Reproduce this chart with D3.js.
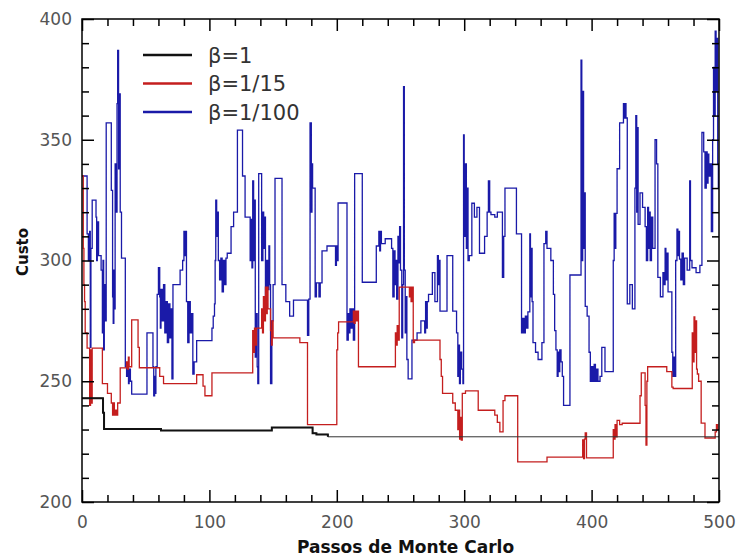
<!DOCTYPE html>
<html lang="pt">
<head>
<meta charset="UTF-8">
<title>Custo vs Passos de Monte Carlo</title>
<script src="https://d3js.org/d3.v7.min.js"></script>
<style>
    body { margin: 0; background: #fff; }
    .tick text { font-family: "DejaVu Sans", sans-serif; font-size: 17px; fill: #555; }
    .axis-title { font-family: "DejaVu Sans", sans-serif; font-weight: bold; font-size: 17px; fill: #111; }
    .legend-text { font-family: "DejaVu Sans", sans-serif; font-size: 21px; fill: #333; }
</style>
</head>
<body>
<svg width="736" height="559"></svg>
<script>
// tick labels
const xMajor = [0, 100, 200, 300, 400, 500];
const yMajor = [200, 250, 300, 350, 400];

// legend
const seriesNames = ["β=1", "β=1/15", "β=1/100"];
const seriesColors = ["#111111", "#c41e1e", "#1a1aa8"];

// [passo, custo] change points (step curve)
const beta1 = [[0,243],[16,243],[16.5,237],[17.3,230.2],[62,229.6],[149,230.8],[181,228.5],[184,228],[193,227],[500,227]];

const beta15 = [[0,335],[1,305],[1.5,290],[2,283],[2.5,270],[4,263.7],[6,240],[6.7,263],[7.3,241],[8,263.7],
  [16,249],[20,245],[23,241],[24,236],[24.7,241],[25.4,236],[26,238],[27,236],[28,241],[30,255.5],
  [35,258],[35.7,255],[36.4,260],[37,256],[39,275.4],[44,264],[45,255.6],[61,252],[64,249],[90,252.7],
  [95,248],[96.5,244],[102,253.5],[134,271],[134.7,262],[135.4,272],[136,265],[137,272],[141,280],
  [141.7,270],[142.4,285],[143,275],[144,289],[144.7,278],[145.4,289],[146,280],[148,271],[148.7,265],
  [149.3,275],[150,268],[171,266],[177,232],[200,263],[200.7,270],[201.4,274.6],[213,279],[213.7,274],
  [214.4,279],[215,275],[216,279],[217,256],[246,270],[246.7,265],[247.4,273],[248,267],[249,289],
  [257,285],[257.7,289],[258.3,283],[259,289],[260,266],[261,267],[281,259],[282,252],[283,245],
  [291,241],[293,238],[295,230],[295.7,238],[296.4,226],[297,235],[297.7,225.6],[298.5,245],[301,246],
  [311,238],[324,236],[326,233],[328,229],[330.5,242],[332,244],[342,216.6],[365,218.6],[393,225.7],
  [393.7,218],[394.4,226],[395,228.6],[396,218.3],[417,230],[417.7,226],[418.4,232],[419,227],
  [420,233.8],[422,232],[424,232.6],[438,244],[439,253.5],[442,240],[442.7,223.6],[443.4,250],
  [444,256],[459,254],[463,247.6],[464,247],[479,270],[479.7,258],[480.4,276.6],[481,262],[481.7,275],
  [482.4,255],[483,253],[484,250],[486,232.7],[489,226.5],[497,229],[498,232],[499,230],[500,230]];

const beta100 = [[0,335],[4,311],[5,300],[6,312],[6.5,264],[7,305],[8,325],[11,318],[11.5,300],[12,316],
  [13,302],[15,296],[16,270],[16.5,300],[17,263],[17.5,290],[18,275],[19,357],[23,329],[24,285],
  [24.5,274],[25,296],[25.5,280],[26,340],[27,320],[27.5,365],[28,387],[28.7,338],[29.3,369],[30,320],
  [31,301],[34,256],[35,252],[36,257],[36.5,249],[37,255],[38,250],[39,244.7],[51,270],[55.7,256],
  [56.3,244],[57,252],[57.5,245],[58,256],[59,286],[60,297],[61,285],[61.5,272],[62,288],[63,275],
  [64,290],[65,270],[66,283],[67,266],[68,282],[69,268],[70,280],[70.6,251],[71.4,290],[77,296],
  [79,300],[80,312],[80.7,302],[81.3,312],[82,283],[83,266],[84,283],[85,270],[86,278],[87,253],
  [88,258],[90,266.8],[102,272],[103,277],[104,282],[104.5,300],[105,325],[105.7,310],[106.4,320],
  [107,300],[108,292],[109,301],[110,287],[111,300],[112,290],[113,301],[114,303],[117,314],[119,320],
  [122,354],[126,335],[128,318],[132,300],[132.7,317],[133.4,297],[134,333],[134.7,300],[135.3,325],
  [136,260],[137,278],[137.5,256],[138,249],[138.7,336],[141,300],[142,320],[142.6,305],[143.3,318],
  [144,285],[145,300],[146,288],[146.7,306],[147.3,290],[148,249],[149,275],[150,290],[151.5,334],
  [157,290],[160,283],[163,277],[166,283.6],[177,269],[178,284],[179,357],[180,320],[180.5,340],
  [181,330],[183,285],[184,290.7],[186,285],[187,290.7],[188.4,304],[192.3,306],[199,298],[199.7,306],
  [200.3,300],[201,323.8],[208,267],[209,278],[209.7,270],[210.3,280],[211,272],[212,280],[213,267],
  [214,336],[220,291],[231,306],[233,312],[233.7,304],[234.3,312],[235,307],[238,309],[243,305],
  [244,285],[245,304],[245.7,290],[246.3,300],[247,284],[248,310],[248.7,299],[249.3,314],[250,296],
  [251,268],[251.7,290],[252.4,372],[253,296],[253.7,270],[254.4,285],[255,259],[256,251],[259,267],
  [263,270],[266,275],[269,270],[269.7,283],[270.3,272],[271,283],[272,286],[275,295],[277,283],
  [279,302],[279.7,290],[280.3,300],[281,279],[286.5,302],[291,279],[294,270],[295,252],[295.7,265],
  [296.3,249],[297,262],[298,255],[299,249],[299.5,352],[300,310],[301,340],[301.7,305],[302.3,330],
  [303,300],[304,302],[306,323.7],[308,318],[310,322],[312,303],[316,310],[318,320],[319,333],[320,320],
  [321,319],[324,318],[326,320],[330,293],[331,310],[332,330],[341,311],[345,270],[346,276],[347,270],
  [348,277],[349,272],[350,278.7],[351.5,311],[352,285],[352.7,305],[353.3,283],[354,266],[356,262],
  [358,259],[361,266],[362.6,307],[364,312],[365,305],[368,300],[370,286],[371,271],[372,263],[373,252],
  [373.7,262],[374.3,254],[375,263],[376,258],[377,252],[378,240],[383,294],[391.7,383],[392.3,300],
  [393,370],[393.7,305],[394.3,328],[395,281],[396.5,277],[398,262],[399,250],[400,256],[401,250],
  [402,257],[403,250],[404,255],[405,250],[406.6,252],[408,264],[410.5,254],[417,300],[417.7,319.5],
  [418.3,305],[419,319.5],[420,338],[422,357],[425,365],[425.7,359],[426.4,365],[427,359],[428,282],
  [430,290],[432,280],[434,330],[434.7,360],[435.4,320],[436,355],[436.5,315],[438,328],[440,322],
  [442,314],[443,300],[444,322],[444.7,305],[445.4,320],[446,300],[447,318],[448,305],[449.8,350],
  [451,340],[452,293],[454,285],[456,295],[457,290],[457.7,305],[458.3,292],[459,303],[460,287],
  [463,262],[463.7,252],[464.4,260],[465,252],[466,300],[467,313],[467.7,302],[468.3,312],[469,300.6],
  [470,292],[471,303],[472,290],[473,301],[475,296],[477,333],[477.6,300],[478.8,297],[482,295],
  [485,298],[486.6,353],[488,345],[489,330],[490,345],[490.7,332],[491.4,344],[492,335],[493,340],
  [494,312],[495,350],[495.7,380],[496.4,360],[497,395],[497.7,370],[498.3,392],[499,340],[499.5,330],
  [500,330]];

const svg = d3.select("svg");
const mLeft = 82, mRight = 719, mTop = 19, mBottom = 502;

const x = d3.scaleLinear().domain([0, 500]).range([mLeft, mRight]);
const y = d3.scaleLinear().domain([200, 400]).range([mBottom, mTop]);

const xMinor = d3.range(0, 501, 20).filter(v => v % 100 !== 0);
const yMinor = d3.range(200, 401, 10).filter(v => v % 50 !== 0);

svg.append("clipPath").attr("id", "plot")
    .append("rect").attr("x", mLeft).attr("y", mTop)
    .attr("width", mRight - mLeft).attr("height", mBottom - mTop);

const line = d3.line()
    .x(d => x(d[0]))
    .y(d => y(d[1]))
    .curve(d3.curveStepAfter);

const g = svg.append("g").attr("clip-path", "url(#plot)");

// blue, red, then black on top
g.append("path").datum(beta100)
    .attr("d", line).attr("fill", "none")
    .attr("stroke", seriesColors[2]).attr("stroke-width", 1.3);

g.append("path").datum(beta15)
    .attr("d", line).attr("fill", "none")
    .attr("stroke", seriesColors[1]).attr("stroke-width", 1.3);

g.append("path").datum(beta1)
    .attr("d", line).attr("fill", "none")
    .attr("stroke", "#333").attr("stroke-width", 1);

g.append("path").datum(beta1.filter(d => d[0] <= 193))
    .attr("d", line).attr("fill", "none")
    .attr("stroke", seriesColors[0]).attr("stroke-width", 2);

// axes with inward ticks on all four sides
function addAxis(axis, tx, ty, values, size, labels) {
    const a = svg.append("g")
        .attr("transform", `translate(${tx},${ty})`)
        .call(axis.tickValues(values).tickSize(-size));
    a.select(".domain").remove();
    a.selectAll(".tick line").attr("stroke", "#000").attr("stroke-width", 1.5);
    if (!labels) a.selectAll(".tick text").remove();
    return a;
}

const xb = addAxis(d3.axisBottom(x), 0, mBottom, xMajor, 12, true);
xb.selectAll(".tick text").attr("y", 14);
addAxis(d3.axisBottom(x), 0, mBottom, xMinor, 7, false);
addAxis(d3.axisTop(x), 0, mTop, xMajor, 12, false);
addAxis(d3.axisTop(x), 0, mTop, xMinor, 7, false);

const yl = addAxis(d3.axisLeft(y), mLeft, 0, yMajor, 12, true);
yl.selectAll(".tick text").attr("x", -10);
addAxis(d3.axisLeft(y), mLeft, 0, yMinor, 7, false);
addAxis(d3.axisRight(y), mRight, 0, yMajor, 12, false);
addAxis(d3.axisRight(y), mRight, 0, yMinor, 7, false);

svg.append("rect")
    .attr("x", mLeft).attr("y", mTop)
    .attr("width", mRight - mLeft).attr("height", mBottom - mTop)
    .attr("fill", "none").attr("stroke", "#000").attr("stroke-width", 1.5);

// axis titles
svg.append("text").attr("class", "axis-title")
    .attr("x", (mLeft + mRight) / 2 + 5).attr("y", 553)
    .attr("text-anchor", "middle")
    .text("Passos de Monte Carlo");

svg.append("text").attr("class", "axis-title")
    .attr("transform", "translate(28,252) rotate(-90)")
    .attr("text-anchor", "middle")
    .style("font-size", "15px")
    .text("Custo");

// legend
const legend = svg.append("g");
seriesNames.forEach((name, i) => {
    const ly = 55 + i * 28.5;
    legend.append("line")
        .attr("x1", 143).attr("x2", 192).attr("y1", ly).attr("y2", ly)
        .attr("stroke", seriesColors[i]).attr("stroke-width", 2.5);
    legend.append("text").attr("class", "legend-text")
        .attr("x", 208).attr("y", ly).attr("dy", "0.36em")
        .text(name);
});
</script>
</body>
</html>
